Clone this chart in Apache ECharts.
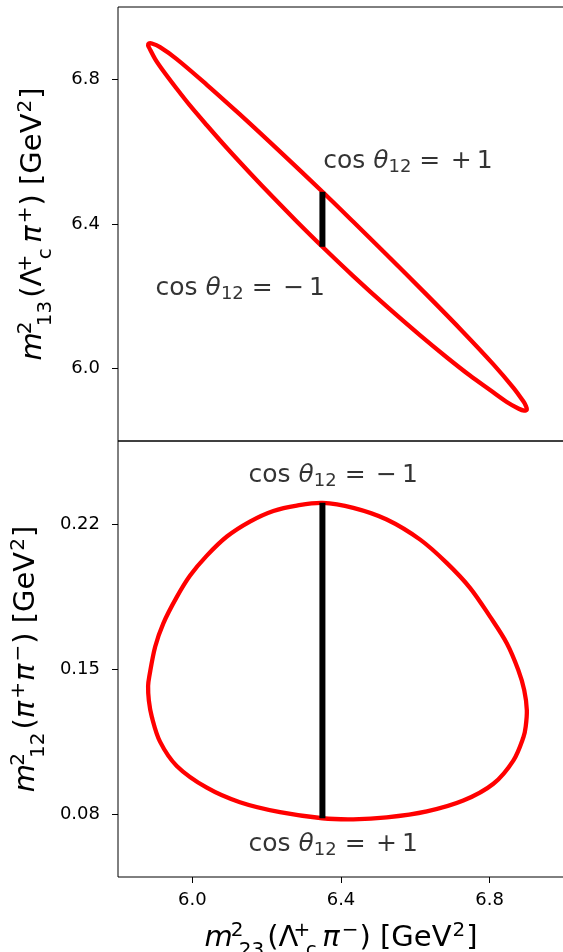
<!DOCTYPE html>
<html lang="en">
<head>
<meta charset="UTF-8">
<title>Dalitz boundary</title>
<style>
  html, body { margin: 0; padding: 0; background: #fff; }
  #main { width: 563px; height: 952px; }
</style>
</head>
<body>
<div id="main"></div>
<script src="https://cdn.jsdelivr.net/npm/echarts@6/dist/echarts.min.js"></script>
<script>
// boundary, going round from the cut at m23 = 6.35
var m23 = [6.350, 6.433, 6.523, 6.613, 6.685, 6.747, 6.801, 6.846, 6.877, 6.893,
           6.900, 6.897, 6.891, 6.864, 6.810, 6.729, 6.631, 6.523, 6.433, 6.350,
           6.236, 6.128, 6.039, 5.958, 5.913, 5.891, 5.883, 5.881, 5.884, 5.900,
           5.922, 5.958, 5.994, 6.039, 6.093, 6.155, 6.218, 6.281];
var m12 = [0.2302, 0.2278, 0.2222, 0.2125, 0.2012, 0.1893, 0.1754, 0.1626, 0.1497, 0.1400,
           0.1303, 0.1225, 0.1174, 0.1062, 0.0949, 0.0868, 0.0816, 0.0787, 0.0778, 0.0783,
           0.0812, 0.0860, 0.0930, 0.1035, 0.1152, 0.1271, 0.1350, 0.1420, 0.1464, 0.1609,
           0.1722, 0.1848, 0.1952, 0.2048, 0.2140, 0.2212, 0.2263, 0.2289];
var m13 = [6.337, 6.256, 6.172, 6.092, 6.031, 5.981, 5.941, 5.908, 5.890, 5.884,
           5.887, 5.898, 5.909, 5.947, 6.012, 6.101, 6.204, 6.315, 6.406, 6.489,
           6.600, 6.703, 6.785, 6.856, 6.889, 6.899, 6.899, 6.894, 6.887, 6.856,
           6.823, 6.774, 6.727, 6.673, 6.610, 6.541, 6.473, 6.407];

// the black cut (cos theta12 from -1 to +1) at fixed m23
var cutM23 = 6.35;
var cutM12 = [0.0783, 0.2302];
var cutM13 = [6.337, 6.489];

var xTicks = [6.0, 6.4, 6.8];
var topTicks = [6.0, 6.4, 6.8];
var bottomTicks = [0.08, 0.15, 0.22];

var FONT = 'DejaVu Sans';

var titleRich = {
    t:    {fontSize: 29, fontFamily: FONT, color: '#000', lineHeight: 38},
    i:    {fontSize: 29, fontFamily: FONT, color: '#000', lineHeight: 38, fontStyle: 'italic', padding: [0, 1, 0, 0]},
    sup:  {fontSize: 20, fontFamily: FONT, color: '#000', lineHeight: 38, padding: [0, 1, 15, 1]},
    supk: {fontSize: 20, fontFamily: FONT, color: '#000', lineHeight: 38, padding: [0, 0, 15, 3], width: 1},
    sub:  {fontSize: 20, fontFamily: FONT, color: '#000', lineHeight: 38, padding: [25, 3, 0, 1]},
    subc: {fontSize: 20, fontFamily: FONT, color: '#000', lineHeight: 38, padding: [25, 3, 0, 1], width: 16}
};

var noteRich = {
    t:  {fontSize: 25, fontFamily: FONT, color: '#000', lineHeight: 32},
    th: {fontSize: 25, fontFamily: FONT, color: '#000', lineHeight: 32, fontStyle: 'italic'},
    s:  {fontSize: 18, fontFamily: FONT, color: '#000', lineHeight: 32, padding: [12, 0, 0, 0]}
};
var plusText = '{t|cos }{th|θ}{s|12}{t| = \u200a+\u20091}';
var minusText = '{t|cos }{th|θ}{s|12}{t| = \u200a\u2212\u20091}';

// [m23, y, text] centre of each annotation
var topNotes = [[6.580, 6.573, plusText], [6.129, 6.223, minusText]];
var bottomNotes = [[6.379, 0.2436, minusText], [6.379, 0.0657, plusText]];

function tickAxis(ticks, digits, min, max, gridIndex, showLabels, margin) {
    return {
        type: 'value', gridIndex: gridIndex, min: min, max: max,
        splitLine: {show: false},
        axisLine: {show: false},
        axisTick: {show: showLabels, customValues: ticks, length: 6, lineStyle: {color: '#000', width: 1}},
        axisLabel: {show: showLabels, customValues: ticks, fontSize: 18, fontFamily: FONT, color: '#000', margin: margin,
            formatter: function (v) { return v.toFixed(digits); }}
    };
}

// closed boundary drawn as one smooth polygon through the axis scales
function loopSeries(ys, idx) {
    var pts = m23.map(function (x, i) { return [x, ys[i]]; });
    return {
        type: 'custom', coordinateSystem: 'cartesian2d', xAxisIndex: idx, yAxisIndex: idx,
        data: pts, silent: true, z: 2, clip: true,
        renderItem: function (params, api) {
            if (params.dataIndex !== 0) return null;
            return {
                type: 'polygon',
                shape: {points: pts.map(function (p) { return api.coord(p); }), smooth: 0.33},
                style: {fill: 'none', stroke: '#ff0000', lineWidth: 4.3, lineJoin: 'round'}
            };
        }
    };
}

function cutSeries(ys, idx) {
    return {type: 'line', xAxisIndex: idx, yAxisIndex: idx, z: 3, silent: true,
        data: [[cutM23, ys[0]], [cutM23, ys[1]]],
        showSymbol: false, lineStyle: {color: '#000', width: 6}};
}

function notes(list, gridIndex) {
    return {
        type: 'scatter', xAxisIndex: gridIndex, yAxisIndex: gridIndex,
        symbolSize: 0, silent: true, z: 5,
        data: list.map(function (n) { return {value: [n[0], n[1]], text: n[2]}; }),
        label: {
            show: true, position: [0, 0], align: 'center', verticalAlign: 'middle',
            color: '#000', textBorderWidth: 0,
            formatter: function (p) { return p.data.text; },
            rich: noteRich
        }
    };
}

var chart = echarts.init(document.getElementById('main'));

var xTop = tickAxis(xTicks, 1, 5.8, 7.0, 0, false, 14);
var xBottom = tickAxis(xTicks, 1, 5.8, 7.0, 1, true, 14);
xBottom.name = '{i|m}{supk|2}{sub|23}{t|(Λ}{supk|+}{subc|c}{i|π}{sup|\u2212}{t|) [GeV}{sup|2}{t|]}';
xBottom.nameLocation = 'middle';
xBottom.nameGap = 42;
xBottom.nameTextStyle = {rich: titleRich};

var yTop = tickAxis(topTicks, 1, 5.8, 7.0, 0, true, 18);
yTop.name = '{i|m}{supk|2}{sub|13}{t|(Λ}{supk|+}{subc|c}{i|π}{sup|+}{t|) [GeV}{sup|2}{t|]}';
yTop.nameLocation = 'middle';
yTop.nameGap = 66;
yTop.nameTextStyle = {rich: titleRich};

var yBottom = tickAxis(bottomTicks, 2, 0.05, 0.26, 1, true, 18);
yBottom.name = '{i|m}{supk|2}{sub|12}{t|(}{i|π}{sup|+}{i|π}{sup|\u2212}{t|) [GeV}{sup|2}{t|]}';
yBottom.nameLocation = 'middle';
yBottom.nameGap = 66;
yBottom.nameTextStyle = {rich: titleRich};

chart.setOption({
    animation: false,
    textStyle: {fontFamily: FONT, color: '#000'},
    grid: [
        {left: 118, top: 7, width: 446, height: 434, show: true, borderColor: '#000', borderWidth: 1,
            outerBoundsMode: 'none'},
        {left: 118, top: 441, width: 446, height: 436, show: true, borderColor: '#000', borderWidth: 1,
            outerBoundsMode: 'none'}
    ],
    xAxis: [xTop, xBottom],
    yAxis: [yTop, yBottom],
    series: [
        loopSeries(m13, 0),
        cutSeries(cutM13, 0),
        loopSeries(m12, 1),
        cutSeries(cutM12, 1),
        notes(topNotes, 0),
        notes(bottomNotes, 1)
    ]
});
</script>
</body>
</html>
